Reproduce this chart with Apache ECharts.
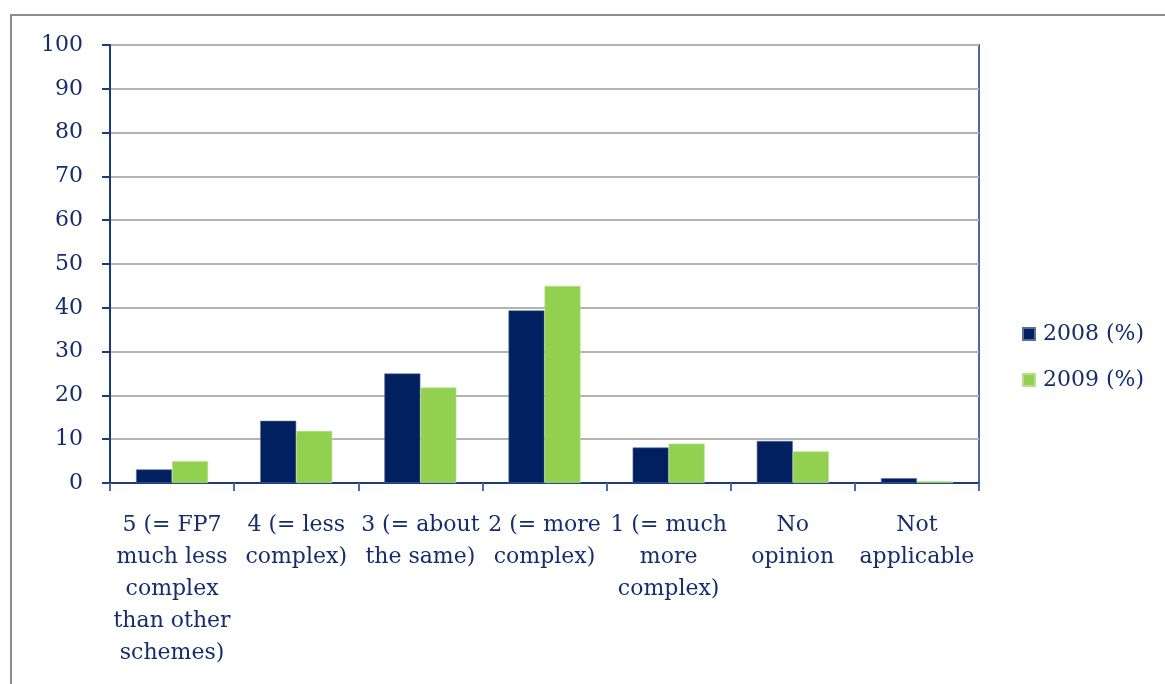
<!DOCTYPE html>
<html>
<head>
<meta charset="utf-8">
<script src="https://cdn.jsdelivr.net/npm/echarts@6/dist/echarts.min.js"></script>
<style>
  html, body { margin: 0; padding: 0; background: #ffffff; }
  #chart { width: 1165px; height: 684px; }
</style>
</head>
<body>
<div id="chart"></div>
<script>
// Perceived complexity of FP7 compared with other schemes
const categories = [
  '5 (= FP7\nmuch less\ncomplex\nthan other\nschemes)',
  '4 (= less\ncomplex)',
  '3 (= about\nthe same)',
  '2 (= more\ncomplex)',
  '1 (= much\nmore\ncomplex)',
  'No\nopinion',
  'Not\napplicable'
];
const seriesNames = ['2008 (%)', '2009 (%)'];
const values2008 = [3.1, 14.2, 25.0, 39.4, 8.1, 9.6, 1.1];
const values2009 = [5.0, 11.9, 21.8, 45.0, 9.0, 7.2, 0.4];
const yTicks = { min: 0, max: 100, interval: 10 };

const textColor = '#152d6b';
const axisColor = '#1f3a7a';
const fontFamily = '"DejaVu Serif", "Liberation Serif", serif';

const chart = echarts.init(document.getElementById('chart'));
chart.setOption({
  animation: false,
  backgroundColor: '#ffffff',
  textStyle: { fontFamily: fontFamily, color: textColor },
  graphic: [{
    type: 'rect',
    shape: { x: 11, y: 15, width: 1200, height: 720 },
    style: { fill: 'none', stroke: '#8c8c8c', lineWidth: 2 },
    silent: true
  }],
  grid: {
    left: 110, right: 186, top: 45, bottom: 201,
    show: true, borderColor: '#4d6aa3', borderWidth: 2, backgroundColor: 'transparent'
  },
  legend: {
    orient: 'vertical',
    left: 1017, top: 318,
    itemWidth: 12, itemHeight: 12, itemGap: 24,
    icon: 'rect',
    textStyle: { fontFamily: fontFamily, fontSize: 22, color: textColor, padding: [0, 0, 0, 3] },
    data: seriesNames
  },
  xAxis: {
    type: 'category',
    data: categories,
    axisLine: { lineStyle: { color: axisColor, width: 2 } },
    axisTick: { show: true, length: 8, lineStyle: { color: '#4d6aa3', width: 2 } },
    axisLabel: {
      interval: 0, margin: 26,
      fontFamily: fontFamily, fontSize: 22, lineHeight: 32, color: textColor, align: 'center'
    },
    splitLine: { show: false }
  },
  yAxis: {
    type: 'value',
    min: yTicks.min, max: yTicks.max, interval: yTicks.interval,
    axisLine: { show: true, lineStyle: { color: axisColor, width: 2 } },
    axisTick: { show: true, length: 8, lineStyle: { color: axisColor, width: 2 } },
    axisLabel: { margin: 27, fontFamily: fontFamily, fontSize: 22, color: textColor },
    splitLine: { show: true, lineStyle: { color: '#b3b3b3', width: 2 } }
  },
  series: [
    {
      name: seriesNames[0], type: 'bar', data: values2008,
      barGap: '0%', barCategoryGap: '42%',
      itemStyle: { color: '#002060', borderColor: '#5a6e9a', borderWidth: 0.6 }
    },
    {
      name: seriesNames[1], type: 'bar', data: values2009,
      itemStyle: { color: '#92d050', borderColor: '#b8e090', borderWidth: 0.6 }
    }
  ]
});
</script>
</body>
</html>
